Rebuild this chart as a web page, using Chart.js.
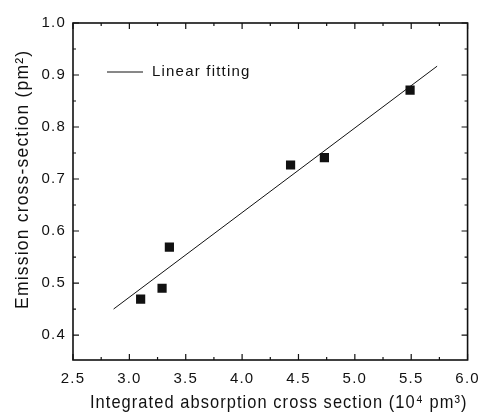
<!DOCTYPE html>
<html>
<head>
<meta charset="utf-8">
<script src="https://cdn.jsdelivr.net/npm/chart.js@4/dist/chart.umd.min.js"></script>
<style>
  html,body{margin:0;padding:0;background:#fff;}
  #wrap{width:488px;height:414px;position:relative;}
</style>
</head>
<body>
<div id="wrap"><canvas id="c" width="488" height="414"></canvas></div>
<script>
// measured points
const absX = [3.10, 3.29, 3.355, 4.43, 4.73, 5.49];
const emisY = [0.469, 0.490, 0.569, 0.727, 0.741, 0.871];
// linear fit end points
const fitX = [2.86, 5.73];
const fitY = [0.450, 0.917];
const xTicks = [2.5, 3.0, 3.5, 4.0, 4.5, 5.0, 5.5, 6.0];
const yTicks = [0.4, 0.5, 0.6, 0.7, 0.8, 0.9, 1.0];

const FONT = 'Liberation Sans, Arial, sans-serif';
const INK = '#111';

// the scanned lettering is wider than Arial, so space it out a bit
const spacing = {
  id: 'spacing',
  beforeDraw(chart){ chart.ctx.letterSpacing = '1.2px'; }
};

// ticks pointing inside, on all four sides, with minor ticks halfway
const innerTicks = {
  id: 'innerTicks',
  afterDraw(chart){
    const {ctx, chartArea:a, scales:{x, y}} = chart;
    ctx.save();
    ctx.strokeStyle = INK; ctx.lineWidth = 1.2;
    ctx.beginPath();
    xTicks.forEach((v,i)=>{
      const px = x.getPixelForValue(v);
      ctx.moveTo(px, a.bottom); ctx.lineTo(px, a.bottom-6);
      ctx.moveTo(px, a.top); ctx.lineTo(px, a.top+6);
      if(i<xTicks.length-1){
        const m = x.getPixelForValue((v+xTicks[i+1])/2);
        ctx.moveTo(m, a.bottom); ctx.lineTo(m, a.bottom-3);
        ctx.moveTo(m, a.top); ctx.lineTo(m, a.top+3);
      }
    });
    yTicks.forEach((v)=>{
      const py = y.getPixelForValue(v);
      ctx.moveTo(a.left, py); ctx.lineTo(a.left+6, py);
      ctx.moveTo(a.right, py); ctx.lineTo(a.right-6, py);
      const m = y.getPixelForValue(v-0.05);
      if(m < a.bottom){
        ctx.moveTo(a.left, m); ctx.lineTo(a.left+3, m);
        ctx.moveTo(a.right, m); ctx.lineTo(a.right-3, m);
      }
    });
    ctx.stroke();
    ctx.lineWidth = 1.6;
    ctx.strokeRect(a.left, a.top, a.right-a.left, a.bottom-a.top);
    // legend
    ctx.lineWidth = 1;
    ctx.beginPath();
    ctx.moveTo(a.left+34, a.top+49); ctx.lineTo(a.left+70, a.top+49);
    ctx.stroke();
    ctx.fillStyle = INK;
    ctx.font = '15px ' + FONT;
    ctx.textBaseline = 'middle';
    ctx.fillText('Linear fitting', a.left+79, a.top+49);
    ctx.restore();
  }
};

new Chart(document.getElementById('c'), {
  type: 'scatter',
  data: {
    datasets: [
      {
        label: 'Linear fitting',
        type: 'line',
        data: fitX.map((v,i)=>({x:v, y:fitY[i]})),
        borderColor: INK, borderWidth: 1,
        pointRadius: 0, fill: false
      },
      {
        label: 'data',
        data: absX.map((v,i)=>({x:v, y:emisY[i]})),
        pointStyle: 'rect', pointRadius: 6.5,
        backgroundColor: INK, borderColor: INK, borderWidth: 0
      }
    ]
  },
  options: {
    responsive: false, animation: false,
    layout: {padding: {top: 23, right: 10, left: 0, bottom: 0}},
    plugins: {legend: {display: false}, tooltip: {enabled: false}},
    scales: {
      x: {
        type: 'linear', min: 2.5, max: 6.0,
        afterBuildTicks: s => { s.ticks = xTicks.map(v=>({value:v})); },
        afterFit: s => { s.height = 54; },
        grid: {display: false, drawTicks: false},
        border: {display: false},
        ticks: {color: INK, font: {family: FONT, size: 15}, padding: 10,
          maxRotation: 0, autoSkip: false,
          callback: v => v.toFixed(1)},
        title: {display: true, text: '   Integrated absorption cross section (10⁴ pm³)',
          color: INK, font: {family: FONT, size: 18.5}, padding: {top: 0, bottom: 0}}
      },
      y: {
        type: 'linear', min: 0.352, max: 1.0,
        afterBuildTicks: s => { s.ticks = yTicks.map(v=>({value:v})); },
        afterFit: s => { s.width = 73; },
        grid: {display: false, drawTicks: false},
        border: {display: false},
        ticks: {color: INK, font: {family: FONT, size: 15}, padding: 7,
          callback: v => v.toFixed(1)},
        title: {display: true, text: '    Emission cross-section (pm²)',
          color: INK, font: {family: FONT, size: 17.5}, padding: {top: 13, bottom: 0}}
      }
    }
  },
  plugins: [spacing, innerTicks]
});
</script>
</body>
</html>
